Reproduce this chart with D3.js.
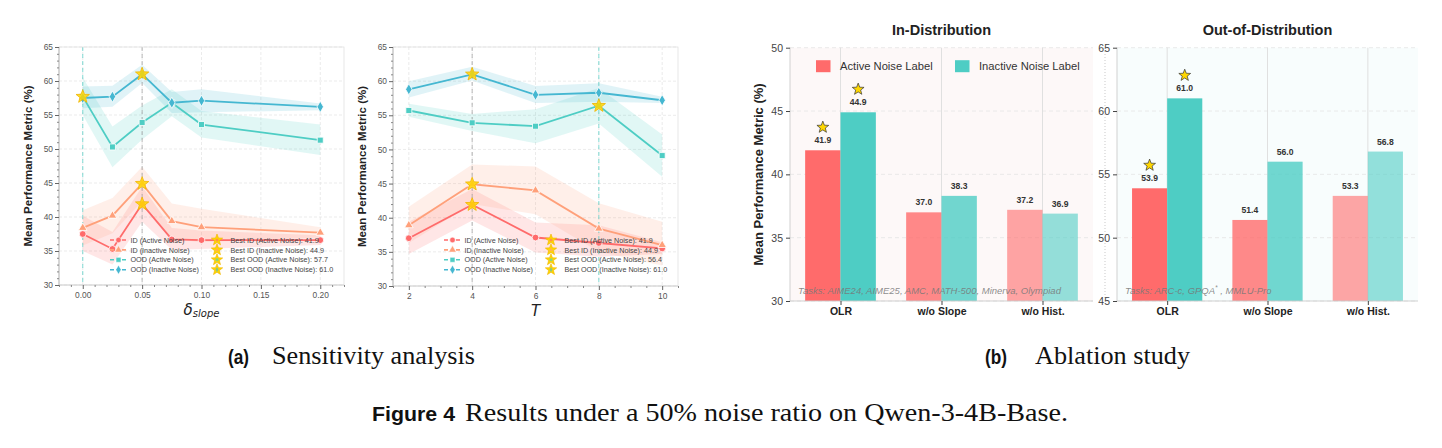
<!DOCTYPE html>
<html>
<head>
<meta charset="utf-8">
<script src="https://cdn.jsdelivr.net/npm/d3@7"></script>
<style>
body { margin: 0; background: #fff; }
svg text { font-family: "Liberation Sans", Arial, sans-serif; }
</style>
</head>
<body>
<svg id="fig" width="1442" height="448"></svg>
<script>
// ---- (a) sensitivity analysis : delta_slope ----
const deltaValues = [0, 0.025, 0.05, 0.075, 0.1, 0.2];
const dIdActive = [37.5, 35.3, 41.9, 36.7, 36.6, 36.6];
const dIdActiveLo = [35.0, 33.0, 39.3, 35.2, 35.3, 35.9];
const dIdActiveHi = [40.2, 37.8, 44.5, 38.4, 38.0, 37.3];
const dIdInactive = [38.4, 40.2, 44.9, 39.4, 38.5, 37.7];
const dIdInactiveLo = [35.8, 37.6, 42.3, 36.8, 36.3, 37.0];
const dIdInactiveHi = [41.0, 42.8, 47.4, 42.0, 41.2, 38.5];
const dOodActive = [57.7, 50.3, 53.9, 56.8, 53.6, 51.3];
const dOodActiveLo = [55.0, 47.3, 51.4, 54.8, 51.7, 49.1];
const dOodActiveHi = [60.5, 53.3, 56.4, 58.8, 55.6, 53.6];
const dOodInactive = [57.5, 57.7, 61.0, 56.8, 57.1, 56.2];
const dOodInactiveLo = [56.0, 56.2, 59.7, 55.3, 55.4, 55.7];
const dOodInactiveHi = [59.2, 59.3, 62.4, 58.4, 58.8, 56.7];

// ---- (a) sensitivity analysis : T ----
const tValues = [2, 4, 6, 8, 10];
const tIdActive = [37.0, 41.9, 37.1, 36.3, 35.5];
const tIdActiveLo = [34.7, 39.6, 34.9, 34.3, 34.7];
const tIdActiveHi = [39.4, 44.2, 39.3, 38.9, 36.4];
const tIdInactive = [38.9, 44.9, 44.0, 38.4, 36.0];
const tIdInactiveLo = [36.3, 42.0, 40.5, 35.0, 33.0];
const tIdInactiveHi = [41.6, 47.8, 47.5, 42.1, 39.4];
const tOodActive = [55.7, 53.9, 53.4, 56.4, 49.1];
const tOodActiveLo = [54.8, 52.7, 50.9, 53.8, 46.0];
const tOodActiveHi = [56.7, 55.2, 55.9, 59.0, 52.2];
const tOodInactive = [58.8, 61.0, 58.0, 58.3, 57.2];
const tOodInactiveLo = [57.6, 60.1, 56.8, 57.0, 56.8];
const tOodInactiveHi = [60.0, 62.1, 59.3, 59.7, 57.7];

const seriesNames = ["ID (Active Noise)", "ID (Inactive Noise)", "OOD (Active Noise)", "OOD (Inactive Noise)"];
const lineYTicks = [30, 35, 40, 45, 50, 55, 60, 65];
const deltaTicks = [0, 0.05, 0.1, 0.15, 0.2];
const tTicks = [2, 4, 6, 8, 10];

// ---- (b) ablation study ----
const ablationCats = ["OLR", "w/o Slope", "w/o Hist."];
const idActiveBars = [41.9, 37.0, 37.2];
const idInactiveBars = [44.9, 38.3, 36.9];
const oodActiveBars = [53.9, 51.4, 53.3];
const oodInactiveBars = [61.0, 56.0, 56.8];
const idYTicks = [30, 35, 40, 45, 50];
const oodYTicks = [45, 50, 55, 60, 65];

const colors = ["#FF6B6B", "#FFA07A", "#4ECDC4", "#45B7D1"];
const markers = [d3.symbolCircle, d3.symbolTriangle, d3.symbolSquare, d3.symbolDiamond];

const svg = d3.select("#fig");

function starPath(r) {
  const pts = [];
  for (let i = 0; i < 10; i++) {
    const a = -Math.PI / 2 + i * Math.PI / 5;
    const rr = i % 2 ? r * 0.42 : r;
    pts.push([rr * Math.cos(a), rr * Math.sin(a)]);
  }
  return "M" + pts.map(p => p[0].toFixed(2) + "," + p[1].toFixed(2)).join("L") + "Z";
}

function styleAxis(sel, color, fontSize) {
  sel.select(".domain").remove();
  sel.selectAll(".tick line").attr("stroke", color);
  sel.selectAll(".tick text").attr("fill", "#555").attr("font-size", fontSize);
}

function linePanel(opt) {
  const box = opt.box;
  const g = svg.append("g");
  const x = d3.scaleLinear().domain(opt.xDomain).range([box.x, box.x + box.w]);
  const y = d3.scaleLinear().domain([30, 65]).range([box.y + box.h, box.y]);

  // grid
  g.selectAll(".gx").data(opt.xTicks).join("line")
    .attr("x1", d => x(d)).attr("x2", d => x(d)).attr("y1", box.y).attr("y2", box.y + box.h)
    .attr("stroke", "#e6e6e6").attr("stroke-width", 0.8).attr("stroke-dasharray", "3,2");
  g.selectAll(".gy").data(lineYTicks).join("line")
    .attr("x1", box.x).attr("x2", box.x + box.w).attr("y1", d => y(d)).attr("y2", d => y(d))
    .attr("stroke", "#e6e6e6").attr("stroke-width", 0.8).attr("stroke-dasharray", "3,2");

  // bands
  opt.series.forEach((s, k) => {
    const area = d3.area()
      .x((d, i) => x(opt.xs[i]))
      .y0((d, i) => y(s.lo[i]))
      .y1((d, i) => y(s.hi[i]));
    g.append("path").datum(s.values).attr("d", area)
      .attr("fill", colors[k]).attr("fill-opacity", 0.17);
  });

  // best reference lines
  const bestIdx = opt.series.map(s => s.values.indexOf(d3.max(s.values)));
  const bestXs = Array.from(new Set(bestIdx.map(i => opt.xs[i])));
  bestXs.forEach(bx => {
    const owners = opt.series.map((s, k) => k).filter(k => opt.xs[bestIdx[k]] === bx);
    const c = owners.length > 1 ? "#999" : colors[owners[0]];
    g.append("line").attr("x1", x(bx)).attr("x2", x(bx)).attr("y1", box.y).attr("y2", box.y + box.h)
      .attr("stroke", c).attr("stroke-width", 1).attr("stroke-dasharray", "4,3").attr("opacity", 0.7);
  });

  // lines + markers
  opt.series.forEach((s, k) => {
    const line = d3.line().x((d, i) => x(opt.xs[i])).y(d => y(d));
    g.append("path").datum(s.values).attr("d", line)
      .attr("fill", "none").attr("stroke", colors[k]).attr("stroke-width", 1.8);
    g.selectAll(null).data(s.values).join("path")
      .attr("transform", (d, i) => `translate(${x(opt.xs[i])},${y(d)})`)
      .attr("d", d3.symbol().type(markers[k]).size(k === 1 ? 32 : 36)())
      .attr("fill", colors[k]).attr("stroke", "#fff").attr("stroke-width", 0.8);
  });

  // stars at best points
  opt.series.forEach((s, k) => {
    const i = bestIdx[k];
    g.append("path").attr("d", starPath(7))
      .attr("transform", `translate(${x(opt.xs[i])},${y(s.values[i])})`)
      .attr("fill", "#FFD700").attr("fill-opacity", 0.85)
      .attr("stroke", "#F0B400").attr("stroke-width", 0.8);
  });

  // spines
  g.append("rect").attr("x", box.x).attr("y", box.y).attr("width", box.w).attr("height", box.h)
    .attr("fill", "none").attr("stroke", "#e2e2e2").attr("stroke-width", 0.8);
  g.append("line").attr("x1", box.x).attr("x2", box.x).attr("y1", box.y).attr("y2", box.y + box.h)
    .attr("stroke", "#aaa").attr("stroke-width", 0.8);
  g.append("line").attr("x1", box.x).attr("x2", box.x + box.w).attr("y1", box.y + box.h).attr("y2", box.y + box.h)
    .attr("stroke", "#ccc").attr("stroke-width", 0.8);

  // axes
  const ay = g.append("g").attr("transform", `translate(${box.x},0)`)
    .call(d3.axisLeft(y).tickValues(lineYTicks).tickSize(4).tickPadding(2));
  styleAxis(ay, "#666", 8.4);
  const minorY = d3.range(30, 66).filter(v => v % 5 !== 0);
  const my = g.append("g").attr("transform", `translate(${box.x},0)`)
    .call(d3.axisLeft(y).tickValues(minorY).tickSize(2).tickFormat(""));
  styleAxis(my, "#888", 0);
  const ax = g.append("g").attr("transform", `translate(0,${box.y + box.h})`)
    .call(d3.axisBottom(x).tickValues(opt.xTicks).tickFormat(opt.xFormat).tickSize(4).tickPadding(3));
  styleAxis(ax, "#666", 8.4);
  const mx = g.append("g").attr("transform", `translate(0,${box.y + box.h})`)
    .call(d3.axisBottom(x).tickValues(opt.xMinor).tickSize(2).tickFormat(""));
  styleAxis(mx, "#888", 0);

  // y label
  g.append("text").attr("transform", `translate(${box.x - 27},${box.y + box.h / 2}) rotate(-90)`)
    .attr("text-anchor", "middle").attr("font-size", 11.5).attr("font-weight", "bold").attr("fill", "#222")
    .text("Mean Performance Metric (%)");

  // x label
  const xl = g.append("text").attr("x", box.x + box.w / 2).attr("y", box.y + box.h + 30)
    .attr("text-anchor", "middle").attr("font-style", "italic").attr("fill", "#222")
    .style("font-family", "'DejaVu Sans', sans-serif");
  xl.append("tspan").attr("font-size", 15).text(opt.xLabel[0]);
  if (opt.xLabel[1]) xl.append("tspan").attr("font-size", 10).attr("dy", 2).text(opt.xLabel[1]);

  // legend
  const lx = box.x + 51, ly = box.y + 193;
  opt.series.forEach((s, k) => {
    const row = g.append("g").attr("transform", `translate(${lx},${ly + k * 9.9})`);
    row.append("line").attr("x1", 0).attr("x2", 17).attr("stroke", colors[k])
      .attr("stroke-width", 1.6).attr("stroke-dasharray", "4,2");
    row.append("path").attr("transform", "translate(8.5,0)")
      .attr("d", d3.symbol().type(markers[k]).size(24)())
      .attr("fill", colors[k]).attr("stroke", "#fff").attr("stroke-width", 0.5);
    row.append("text").attr("x", 20.5).attr("y", 2.6).attr("font-size", 7.2).attr("fill", "#444")
      .text(seriesNames[k]);
    const star = g.append("g").attr("transform", `translate(${lx + 107},${ly + k * 9.9})`);
    star.append("path").attr("d", starPath(6)).attr("fill", "#FFD700").attr("stroke", "#F0B400").attr("stroke-width", 0.6);
    star.append("path").attr("d", d3.symbol().type(markers[k]).size(8)()).attr("fill", colors[k]).attr("opacity", 0.6);
    star.append("text").attr("x", 13.5).attr("y", 2.6).attr("font-size", 7.2).attr("fill", "#444")
      .text("Best " + seriesNames[k] + ": " + d3.format(".1f")(d3.max(s.values)));
  });
}

linePanel({
  box: { x: 59, y: 47, w: 285, h: 238 },
  xs: deltaValues,
  xDomain: [-0.02, 0.22],
  xTicks: deltaTicks,
  xMinor: d3.range(-2, 23).map(i => i / 100).filter(v => Math.round(v * 100) % 5 !== 0),
  xFormat: d3.format(".2f"),
  xLabel: ["δ", "slope"],
  series: [
    { values: dIdActive, lo: dIdActiveLo, hi: dIdActiveHi },
    { values: dIdInactive, lo: dIdInactiveLo, hi: dIdInactiveHi },
    { values: dOodActive, lo: dOodActiveLo, hi: dOodActiveHi },
    { values: dOodInactive, lo: dOodInactiveLo, hi: dOodInactiveHi }
  ]
});

linePanel({
  box: { x: 393, y: 47, w: 285, h: 239 },
  xs: tValues,
  xDomain: [1.5, 10.5],
  xTicks: tTicks,
  xMinor: d3.range(3, 22).map(i => i / 2).filter(v => v % 2 !== 0),
  xFormat: d3.format("d"),
  xLabel: ["T"],
  series: [
    { values: tIdActive, lo: tIdActiveLo, hi: tIdActiveHi },
    { values: tIdInactive, lo: tIdInactiveLo, hi: tIdInactiveHi },
    { values: tOodActive, lo: tOodActiveLo, hi: tOodActiveHi },
    { values: tOodInactive, lo: tOodInactiveLo, hi: tOodInactiveHi }
  ]
});

// ---- bar panels ----
const barAlpha = [1, 0.8, 0.6];

function barPanel(opt) {
  const box = opt.box;
  const g = svg.append("g");
  const x = d3.scaleLinear().domain([-0.5, ablationCats.length - 0.5]).range([box.x, box.x + box.w]);
  const y = d3.scaleLinear().domain(opt.yDomain).range([box.y + box.h, box.y]);
  const bw = (x(1) - x(0)) * 0.35;

  g.append("rect").attr("x", box.x).attr("y", box.y).attr("width", box.w).attr("height", box.h)
    .attr("fill", opt.bg);
  g.selectAll(".gy").data(opt.yTicks).join("line")
    .attr("x1", box.x).attr("x2", box.x + box.w).attr("y1", d => y(d)).attr("y2", d => y(d))
    .attr("stroke", "#e4e4e4").attr("stroke-width", 0.8).attr("stroke-dasharray", "4,3");
  g.selectAll(".gx").data(ablationCats).join("line")
    .attr("x1", (d, i) => x(i)).attr("x2", (d, i) => x(i)).attr("y1", box.y).attr("y2", box.y + box.h)
    .attr("stroke", "#dcdcdc").attr("stroke-width", 0.9);

  const groups = [{ vals: opt.active, color: colors[0], dx: -bw }, { vals: opt.inactive, color: colors[2], dx: 0 }];
  groups.forEach(gr => {
    g.selectAll(null).data(gr.vals).join("rect")
      .attr("x", (d, i) => x(i) + gr.dx).attr("width", bw)
      .attr("y", d => y(d)).attr("height", d => y(opt.yDomain[0]) - y(d))
      .attr("fill", gr.color).attr("fill-opacity", (d, i) => barAlpha[i]);
    g.selectAll(null).data(gr.vals).join("text")
      .attr("x", (d, i) => x(i) + gr.dx + bw / 2).attr("y", d => y(d) - 7)
      .attr("text-anchor", "middle").attr("font-size", 8.6).attr("font-weight", "bold").attr("fill", "#333")
      .text(d => d3.format(".1f")(d));
    const bi = gr.vals.indexOf(d3.max(gr.vals));
    g.append("path").attr("d", starPath(6.2))
      .attr("transform", `translate(${x(bi) + gr.dx + bw / 2},${y(gr.vals[bi]) - 23})`)
      .attr("fill", "#FFD700").attr("stroke", "#333").attr("stroke-width", 0.7);
  });

  // tasks note
  const note = g.append("text").attr("x", box.x + 8).attr("y", box.y + box.h - 7)
    .attr("font-size", 9.5).attr("font-style", "italic").attr("fill", "#777").attr("fill-opacity", 0.85);
  note.append("tspan").text(opt.tasks[0]);
  if (opt.tasks[1]) {
    note.append("tspan").attr("font-size", 6.5).attr("dy", -4).text(opt.tasks[1]);
    note.append("tspan").attr("dy", 4).text(opt.tasks[2]);
  }

  // spines
  g.append("line").attr("x1", box.x).attr("x2", box.x).attr("y1", box.y).attr("y2", box.y + box.h)
    .attr("stroke", "#ccc").attr("stroke-width", 0.9);
  g.append("line").attr("x1", box.x).attr("x2", box.x + box.w).attr("y1", box.y + box.h).attr("y2", box.y + box.h)
    .attr("stroke", "#ccc").attr("stroke-width", 0.9);

  const ay = g.append("g").attr("transform", `translate(${box.x},0)`)
    .call(d3.axisLeft(y).tickValues(opt.yTicks).tickSize(4).tickPadding(3));
  styleAxis(ay, "#444", 10.5);
  ay.selectAll(".tick text").attr("fill", "#444");
  const ax = g.append("g").attr("transform", `translate(0,${box.y + box.h})`)
    .call(d3.axisBottom(x).tickValues(d3.range(ablationCats.length)).tickFormat(i => ablationCats[i]).tickSize(4).tickPadding(3));
  styleAxis(ax, "#444", 10.5);
  ax.selectAll(".tick text").attr("font-weight", "bold").attr("fill", "#222");

  g.append("text").attr("x", box.x + box.w / 2).attr("y", 35).attr("text-anchor", "middle")
    .attr("font-size", 14.5).attr("font-weight", "bold").attr("fill", "#222").text(opt.title);

  if (opt.yLabel) {
    g.append("text").attr("transform", `translate(${box.x - 27},${box.y + box.h / 2}) rotate(-90)`)
      .attr("text-anchor", "middle").attr("font-size", 13).attr("font-weight", "bold").attr("fill", "#222")
      .text("Mean Performance Metric (%)");
  }
  if (opt.legend) {
    [["Active Noise Label", colors[0], 26], ["Inactive Noise Label", colors[2], 165]].forEach(([lab, c, off]) => {
      g.append("rect").attr("x", box.x + off).attr("y", box.y + 12.5).attr("width", 14.5).attr("height", 12).attr("fill", c);
      g.append("text").attr("x", box.x + off + 24).attr("y", box.y + 22.5).attr("font-size", 11.2).attr("fill", "#333").text(lab);
    });
  }
}

barPanel({
  box: { x: 790, y: 47.7, w: 303, h: 253.3 },
  yDomain: [30, 50], yTicks: idYTicks,
  active: idActiveBars, inactive: idInactiveBars,
  title: "In-Distribution", bg: "#FDF8F8",
  tasks: ["Tasks: AIME24, AIME25, AMC, MATH-500, Minerva, Olympiad"],
  yLabel: true, legend: true
});

svg.append("line").attr("x1", 1105).attr("x2", 1105).attr("y1", 48).attr("y2", 300)
  .attr("stroke", "#bbb").attr("stroke-width", 0.8).attr("stroke-dasharray", "1,2");

barPanel({
  box: { x: 1117, y: 47.7, w: 301, h: 253.3 },
  yDomain: [45, 65], yTicks: oodYTicks,
  active: oodActiveBars, inactive: oodInactiveBars,
  title: "Out-of-Distribution", bg: "#F8FDFD",
  tasks: ["Tasks: ARC-c, GPQA", "*", " , MMLU-Pro"],
  yLabel: false, legend: false
});

// ---- captions ----
const cap = svg.append("g");
function capText(xp, yp, bold, txt, len) {
  const t = cap.append("text").attr("x", xp).attr("y", yp).attr("fill", "#111").text(txt)
    .attr("textLength", len).attr("lengthAdjust", "spacingAndGlyphs");
  if (bold) t.attr("font-weight", "bold").attr("font-size", 21);
  else t.style("font-family", "'Liberation Serif', 'Times New Roman', serif").attr("font-size", 25);
}
capText(228, 364, true, "(a)", 21);
capText(272, 364, false, "Sensitivity analysis", 203);
capText(985, 364, true, "(b)", 22);
capText(1035, 364, false, "Ablation study", 155);
capText(372, 421, true, "Figure 4", 83);
capText(465, 421, false, "Results under a 50% noise ratio on Qwen-3-4B-Base.", 603);
</script>
</body>
</html>
